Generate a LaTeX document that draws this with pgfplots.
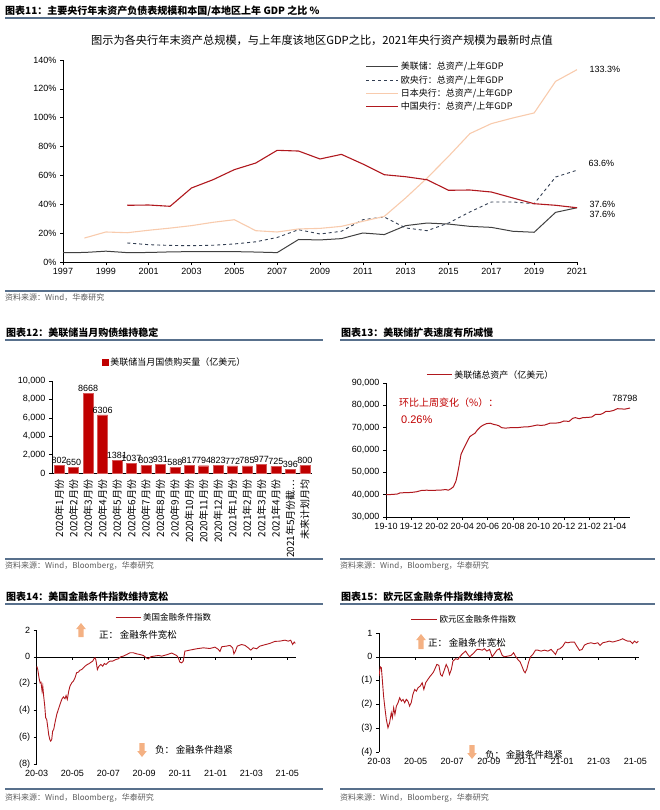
\documentclass[border=0pt]{standalone}
\usepackage{fontspec}
\setmainfont{Liberation Sans}
\newfontfamily\cjk{Noto Sans CJK SC}
\usepackage{pgfplots}
\pgfplotsset{compat=1.18}

\definecolor{fedgray}{RGB}{64,64,64}
\definecolor{ecbblue}{RGB}{50,62,82}
\definecolor{bojpeach}{RGB}{248,203,173}
\definecolor{pbocred}{RGB}{176,24,30}
\definecolor{barred}{RGB}{192,0,0}
\definecolor{sepblue}{RGB}{88,112,140}
\definecolor{arrowpeach}{RGB}{244,177,131}
\definecolor{srcgray}{RGB}{90,90,90}

\newcommand{\fs}[1]{\fontsize{#1}{#1}\selectfont}
% up / down arrows: centre x, top y, bottom y (page pixels, y down)
\newcommand{\uparr}[3]{\fill[arrowpeach] ({#1-2.6},#3) -- ({#1-2.6},{#2+6}) -- ({#1-4.8},{#2+6}) -- (#1,#2) -- ({#1+4.8},{#2+6}) -- ({#1+2.6},{#2+6}) -- ({#1+2.6},#3) -- cycle;}
\newcommand{\dnarr}[3]{\fill[arrowpeach] ({#1-2.6},#2) -- ({#1-2.6},{#3-6}) -- ({#1-4.8},{#3-6}) -- (#1,#3) -- ({#1+4.8},{#3-6}) -- ({#1+2.6},{#3-6}) -- ({#1+2.6},#2) -- cycle;}

\pgfplotsset{
  hb/.style={
    scale only axis, anchor=south west,
    /pgf/number format/assume math mode=true,
    tick label style={font=\fs{9}},
    axis line style={black, line width=0.6pt},
    tick style={black, line width=0.6pt},
    major tick length=3pt, tick align=outside,
    clip mode=individual,
    legend style={draw=none, fill=none, font=\cjk\fs{8.5}, cells={anchor=west}},
  },
  linelegend/.style={legend image code/.code={\draw[##1] (0pt,0pt) -- (#1,0pt);}},
}

\begin{document}
\begin{tikzpicture}
\useasboundingbox (0,0) rectangle (660pt,-810pt);

\begin{scope}[x=1pt, y=-1pt]
  % separators
  \draw[sepblue, line width=1.5pt] (5,18) -- (655,18);
  \draw[sepblue, line width=1.2pt] (5,291) -- (655,291);
  \draw[sepblue, line width=1.5pt] (5,340) -- (323,340);
  \draw[sepblue, line width=1.5pt] (340,340) -- (655,340);
  \draw[sepblue, line width=1.2pt] (5,559) -- (323,559);
  \draw[sepblue, line width=1.2pt] (340,559) -- (655,559);
  \draw[sepblue, line width=1.5pt] (5,604) -- (323,604);
  \draw[sepblue, line width=1.5pt] (340,604) -- (655,604);
  \draw[sepblue, line width=1.2pt] (5,789) -- (323,789);
  \draw[sepblue, line width=1.2pt] (340,789) -- (655,789);
  % titles
  \node[anchor=west, font=\cjk\bfseries\fs{10}, inner sep=0] at (5,11) {图表11：主要央行年末资产负债表规模和本国/本地区上年 GDP 之比 \%};
  \node[anchor=west, font=\cjk\bfseries\fs{10}, inner sep=0] at (6,333) {图表12：美联储当月购债维持稳定};
  \node[anchor=west, font=\cjk\bfseries\fs{10}, inner sep=0] at (341,333) {图表13：美联储扩表速度有所减慢};
  \node[anchor=west, font=\cjk\bfseries\fs{10}, inner sep=0] at (6,597) {图表14：美国金融条件指数维持宽松};
  \node[anchor=west, font=\cjk\bfseries\fs{10}, inner sep=0] at (341,597) {图表15：欧元区金融条件指数维持宽松};
  \node[font=\cjk\fs{11.2}, inner sep=0] at (322,40) {图示为各央行年末资产总规模，与上年度该地区GDP之比，2021年央行资产规模为最新时点值};
  % sources
  \node[anchor=west, font=\cjk\fs{8}, text=srcgray, inner sep=0] at (5,298) {资料来源：Wind，华泰研究};
  \node[anchor=west, font=\cjk\fs{8}, text=srcgray, inner sep=0] at (5,566) {资料来源：Wind，Bloomberg，华泰研究};
  \node[anchor=west, font=\cjk\fs{8}, text=srcgray, inner sep=0] at (340,566) {资料来源：Wind，Bloomberg，华泰研究};
  \node[anchor=west, font=\cjk\fs{8}, text=srcgray, inner sep=0] at (5,798) {资料来源：Wind，Bloomberg，华泰研究};
  \node[anchor=west, font=\cjk\fs{8}, text=srcgray, inner sep=0] at (340,798) {资料来源：Wind，Bloomberg，华泰研究};
  % panel 13 texts
  \node[anchor=west, font=\cjk\fs{10}, text=barred, inner sep=0] at (399,403) {环比上周变化（\%）：};
  \node[anchor=west, font=\fs{11}, text=barred, inner sep=0] at (401,420) {0.26\%};
  % panel 14 / 15 arrows and texts
  \uparr{81}{623}{637}
  \dnarr{142}{743}{757}
  \node[anchor=west, font=\cjk\fs{9.5}, inner sep=0] at (99,635) {正：\,金融条件宽松};
  \node[anchor=west, font=\cjk\fs{9.5}, inner sep=0] at (155,750) {负：\,金融条件趋紧};
  \uparr{421}{634}{649}
  \dnarr{472}{745}{759}
  \node[anchor=west, font=\cjk\fs{9.5}, inner sep=0] at (428,643) {正：\,金融条件宽松};
  \node[anchor=west, font=\cjk\fs{9.5}, inner sep=0] at (485,755) {负：\,金融条件趋紧};
\end{scope}

% ---------------- chart 11
\begin{axis}[hb, at={(63pt,-262pt)}, width=514pt, height=202pt,
  axis lines*=left,
  xmin=1997, xmax=2021, ymin=0, ymax=140,
  xtick={1997,1999,...,2021}, ytick={0,20,...,140},
  x tick label style={/pgf/number format/1000 sep={}},
  yticklabel={\pgfmathprintnumber{\tick}\%},
  linelegend=32pt,
  legend style={at={(0.583,1.01)}, anchor=north west, row sep=0.3pt, font=\cjk\fs{9}},
]
\addplot[fedgray, line width=1pt] coordinates {
  (1997,6.5)(1998,6.6)(1999,7.5)(2000,6.5)(2001,6.6)(2002,7.0)(2003,7.2)(2004,7.2)
  (2005,7.2)(2006,6.9)(2007,6.5)(2008,15.6)(2009,15.3)(2010,16.2)(2011,20.1)(2012,19.0)
  (2013,25.2)(2014,27.0)(2015,26.3)(2016,24.7)(2017,24.0)(2018,21.3)(2019,20.6)(2020,34.4)(2021,37.6)};
\addlegendentry{美联储：总资产/上年GDP}
\addplot[ecbblue, line width=0.9pt, dashed] coordinates {
  (2000,13.2)(2001,12.0)(2002,11.5)(2003,11.3)(2004,11.6)(2005,12.5)(2006,14.0)(2007,17.0)
  (2008,22.4)(2009,19.4)(2010,21.3)(2011,29.3)(2012,31.2)(2013,23.6)(2014,21.7)(2015,27.0)
  (2016,34.7)(2017,41.6)(2018,41.6)(2019,40.4)(2020,58.9)(2021,63.6)};
\addlegendentry{欧央行：总资产/上年GDP}
\addplot[bojpeach, line width=1.1pt] coordinates {
  (1998,16.6)(1999,20.8)(2000,20.3)(2001,22.0)(2002,23.5)(2003,25.2)(2004,27.5)(2005,29.3)
  (2006,21.7)(2007,20.8)(2008,22.9)(2009,23.3)(2010,24.7)(2011,28.2)(2012,31.6)(2013,44.4)
  (2014,58.2)(2015,73.2)(2016,89.0)(2017,95.9)(2018,99.8)(2019,103.3)(2020,125.2)(2021,133.3)};
\addlegendentry{日本央行：总资产/上年GDP}
\addplot[pbocred, line width=1.1pt] coordinates {
  (2000,39.3)(2001,39.5)(2002,38.6)(2003,51.3)(2004,57.0)(2005,64.0)(2006,68.6)(2007,77.4)
  (2008,76.9)(2009,71.4)(2010,74.6)(2011,67.9)(2012,60.5)(2013,59.1)(2014,57.0)(2015,49.7)
  (2016,49.9)(2017,48.5)(2018,44.4)(2019,40.4)(2020,39.3)(2021,37.6)};
\addlegendentry{中国央行：总资产/上年GDP}
\node[anchor=west, font=\fs{9}, xshift=9pt] at (axis cs:2021,133.3) {133.3\%};
\node[anchor=west, font=\fs{9}, xshift=8pt, yshift=7pt] at (axis cs:2021,63.6) {63.6\%};
\node[anchor=west, font=\fs{9}, xshift=9pt, yshift=3.5pt] at (axis cs:2021,37.6) {37.6\%};
\node[anchor=west, font=\fs{9}, xshift=9pt, yshift=-6.5pt] at (axis cs:2021,37.6) {37.6\%};
\end{axis}

% ---------------- chart 12
\begin{axis}[hb, at={(52pt,-473pt)}, width=260pt, height=92pt,
  axis lines*=left,
  ybar, bar width=10pt,
  xmin=-0.5, xmax=17.5, ymin=0, ymax=10000,
  xtick={0,...,17}, xtick style={draw=none},
  xticklabels={2020年1月份,2020年2月份,2020年3月份,2020年4月份,2020年5月份,2020年6月份,
    2020年7月份,2020年8月份,2020年9月份,2020年10月份,2020年11月份,2020年12月份,
    2021年1月份,2021年2月份,2021年3月份,2021年4月份,2021年5月份截…,未来计划月均},
  x tick label style={rotate=90, anchor=east, font=\cjk\fs{10}},
  ytick={0,2000,...,10000}, scaled y ticks=false,
  y tick label style={/pgf/number format/1000 sep={,}},
  nodes near coords,
  nodes near coords style={font=\fs{9}, /pgf/number format/1000 sep={}, inner sep=1.5pt},
  legend image code/.code={\fill[barred] (0pt,-3pt) rectangle (6pt,3pt);},
  legend style={at={(0.18,1.2)}, anchor=west, font=\cjk\fs{9}},
]
\addplot[fill=barred, draw=barred!65!white, line width=0.4pt] coordinates {
  (0,802)(1,650)(2,8668)(3,6306)(4,1381)(5,1037)(6,803)(7,931)(8,588)
  (9,817)(10,794)(11,823)(12,772)(13,785)(14,977)(15,725)(16,396)(17,800)};
\addlegendentry{美联储当月国债购买量（亿美元）}
\end{axis}

% ---------------- chart 13
\begin{axis}[hb, at={(386pt,-517pt)}, width=244pt, height=134pt,
  axis lines*=left,
  xmin=0, xmax=19.2, ymin=30000, ymax=90000,
  xtick={0,2,...,18},
  xticklabels={19-10,19-12,20-02,20-04,20-06,20-08,20-10,20-12,21-02,21-04},
  ytick={30000,40000,...,90000}, scaled y ticks=false,
  y tick label style={/pgf/number format/1000 sep={,}},
  linelegend=25pt,
  legend style={at={(0.152,1.06)}, anchor=west, font=\cjk\fs{9}},
]
\addplot[pbocred, line width=1pt] coordinates {
  (0,40000)(0.5,40100)(0.9,40300)(1.1,40800)(1.5,40900)(2,41000)(2.4,41300)(2.8,41900)
  (3.2,42000)(3.6,41900)(4,42000)(4.4,42100)(4.7,42300)(4.9,42000)(5.1,42600)(5.3,43500)
  (5.5,46000)(5.6,48500)(5.75,53000)(5.9,58000)(6.1,60500)(6.25,62200)(6.45,64500)(6.6,66000)
  (6.8,66800)(7.0,67500)(7.2,69000)(7.4,70200)(7.6,71000)(7.9,71800)(8.2,72000)(8.45,71500)
  (8.7,71200)(8.9,70800)(9.1,70000)(9.4,69800)(9.8,70000)(10.3,70000)(10.8,70300)(11.2,70400)
  (11.5,70700)(11.9,71200)(12.2,71000)(12.5,71200)(12.9,72000)(13.3,72000)(13.7,72300)(14.0,73000)
  (14.4,72800)(14.7,74200)(14.9,74500)(15.2,74000)(15.5,74500)(15.9,74600)(16.2,74800)(16.5,76000)
  (16.9,76000)(17.1,76500)(17.3,77300)(17.6,77300)(17.9,77700)(18.2,78500)(18.5,78400)(18.8,78300)(19.2,78798)};
\addlegendentry{美联储总资产（亿美元）}
\node[anchor=south, font=\fs{9}, yshift=3pt] at (axis cs:18.8,78798) {78798};
\end{axis}

% ---------------- chart 14
\begin{axis}[hb, at={(36.7pt,-764pt)}, width=259.5pt, height=134pt,
  axis y line*=left, axis x line*=middle, hide obscured x ticks=false,
  xmin=0, xmax=14.5, ymin=-8, ymax=2,
  xtick={0,2,...,14},
  xticklabels={20-03,20-05,20-07,20-09,20-11,21-01,21-03,21-05},
  x tick label style={yshift=-106.7pt},
  ytick={-8,-6,...,2}, yticklabels={(8),(6),(4),(2),0,2},
  linelegend=25pt,
  legend style={at={(0.29,1.09)}, anchor=west},
]
\addplot[pbocred, line width=0.9pt] coordinates {
  (0,-0.7)(0.06,-0.95)(0.13,-1.57)(0.19,-1.94)(0.24,-1.89)(0.3,-2.56)(0.34,-2.19)(0.39,-2.94)
  (0.45,-3.68)(0.5,-4.55)(0.56,-4.68)(0.61,-5.17)(0.67,-5.8)(0.73,-6.17)(0.78,-6.29)(0.84,-6.17)
  (0.89,-5.55)(0.95,-5.42)(1.02,-4.93)(1.12,-4.3)(1.21,-3.93)(1.3,-3.56)(1.4,-3.18)(1.49,-2.99)
  (1.58,-3.13)(1.64,-2.89)(1.71,-3.18)(1.79,-2.56)(1.86,-2.19)(1.96,-1.94)(2.05,-1.82)(2.14,-1.57)
  (2.23,-1.19)(2.33,-1.14)(2.42,-1.0)(2.51,-0.95)(2.61,-0.82)(2.7,-0.7)(2.83,-0.57)(2.94,-0.5)
  (3.04,-0.4)(3.13,-0.32)(3.2,-0.15)(3.26,-0.07)(3.31,-0.25)(3.39,-0.95)(3.48,-0.7)(3.58,-0.57)
  (3.69,-0.7)(3.78,-0.5)(3.87,-0.57)(4.0,-0.4)(4.1,-0.32)(4.25,-0.32)(4.43,-0.2)(4.56,-0.15)
  (4.69,0)(4.84,0.05)(5.03,0.17)(5.21,0.3)(5.4,0.3)(5.59,0.22)(5.77,0.17)(5.96,0.1)
  (6.11,-0.07)(6.24,-0.15)(6.37,0)(6.55,0.05)(6.8,0.1)(6.98,0.05)(7.26,0.15)(7.54,0.28)
  (7.82,0.1)(7.91,-0.07)(8.0,-0.4)(8.1,-0.45)(8.19,-0.32)(8.28,0.42)(8.56,0.5)(8.94,0.6)
  (9.31,0.67)(9.68,0.62)(9.96,0.72)(10.15,0.55)(10.24,0.4)(10.34,0.75)(10.61,0.8)(10.8,0.85)
  (10.95,0.67)(11.02,0.22)(11.1,0.42)(11.21,0.8)(11.45,0.92)(11.64,0.85)(11.82,0.67)(11.96,0.5)
  (12.1,0.67)(12.29,0.6)(12.47,0.8)(12.75,0.9)(13.03,1.0)(13.31,1.15)(13.59,1.17)(13.87,1.24)
  (14.06,1.17)(14.19,1.24)(14.3,0.92)(14.39,1.1)(14.45,1.0)};
\addlegendentry{美国金融条件指数}
\end{axis}

% ---------------- chart 15
\begin{axis}[hb, at={(379pt,-752pt)}, width=260pt, height=119pt,
  axis y line*=left, axis x line*=middle, hide obscured x ticks=false,
  xmin=0, xmax=14.2, ymin=-4, ymax=1,
  xtick={0,2,...,14},
  xticklabels={20-03,20-05,20-07,20-09,20-11,21-01,21-03,21-05},
  x tick label style={yshift=-95.2pt},
  ytick={-4,...,1}, yticklabels={(4),(3),(2),(1),0,1},
  linelegend=26pt,
  legend style={at={(0.11,1.11)}, anchor=west},
]
\addplot[pbocred, line width=0.9pt] coordinates {
  (0,-0.8)(0.07,-0.42)(0.13,-0.46)(0.18,-0.95)(0.25,-1.65)(0.31,-2.07)(0.4,-2.63)(0.49,-2.98)
  (0.58,-2.77)(0.67,-2.35)(0.73,-2.56)(0.8,-2.14)(0.87,-2.42)(0.95,-2.07)(1.04,-1.93)(1.13,-1.72)
  (1.22,-1.86)(1.31,-1.79)(1.4,-1.93)(1.49,-1.79)(1.58,-1.86)(1.67,-2.07)(1.76,-1.93)(1.85,-1.58)
  (1.95,-1.37)(2.04,-1.44)(2.13,-1.3)(2.25,-1.23)(2.36,-1.09)(2.45,-1.37)(2.55,-1.09)(2.67,-0.95)
  (2.8,-0.81)(2.95,-0.67)(3.04,-0.53)(3.16,-0.32)(3.27,-0.36)(3.36,-0.74)(3.45,-0.81)(3.58,-0.53)
  (3.67,-0.32)(3.76,-0.46)(3.85,-0.74)(3.95,-0.53)(4.04,-0.18)(4.18,-0.08)(4.31,-0.11)(4.44,0.03)
  (4.58,0.14)(4.73,0.24)(4.85,0.1)(4.95,0)(5.09,0.1)(5.22,0.2)(5.35,0.31)(5.49,0.31)
  (5.64,0.28)(5.76,0.34)(5.89,0.24)(6.04,0.31)(6.18,0)(6.31,0.14)(6.44,0.28)(6.58,0.34)
  (6.73,0.06)(6.85,0)(7.04,0.03)(7.22,0.06)(7.35,0.17)(7.45,0.03)(7.58,-0.11)(7.71,-0.22)
  (7.82,-0.42)(7.91,-0.6)(7.98,-0.67)(8.07,-0.53)(8.16,-0.25)(8.27,0)(8.4,0.1)(8.55,0.28)
  (8.67,0.28)(8.85,0.24)(9.04,0.28)(9.22,0.24)(9.4,0.31)(9.53,0.2)(9.64,0.1)(9.76,0.31)
  (9.89,0.34)(10.04,0.45)(10.18,0.62)(10.31,0.59)(10.49,0.62)(10.67,0.62)(10.8,0.45)(10.95,0.27)
  (11.09,0.31)(11.22,0.49)(11.4,0.56)(11.58,0.59)(11.76,0.55)(11.95,0.59)(12.07,0.48)(12.22,0.59)
  (12.4,0.62)(12.58,0.66)(12.76,0.62)(12.95,0.66)(13.13,0.7)(13.31,0.76)(13.45,0.7)(13.58,0.66)
  (13.71,0.66)(13.85,0.56)(13.95,0.66)(14.07,0.59)(14.16,0.66)};
\addlegendentry{欧元区金融条件指数}
\end{axis}
\end{tikzpicture}
\end{document}
